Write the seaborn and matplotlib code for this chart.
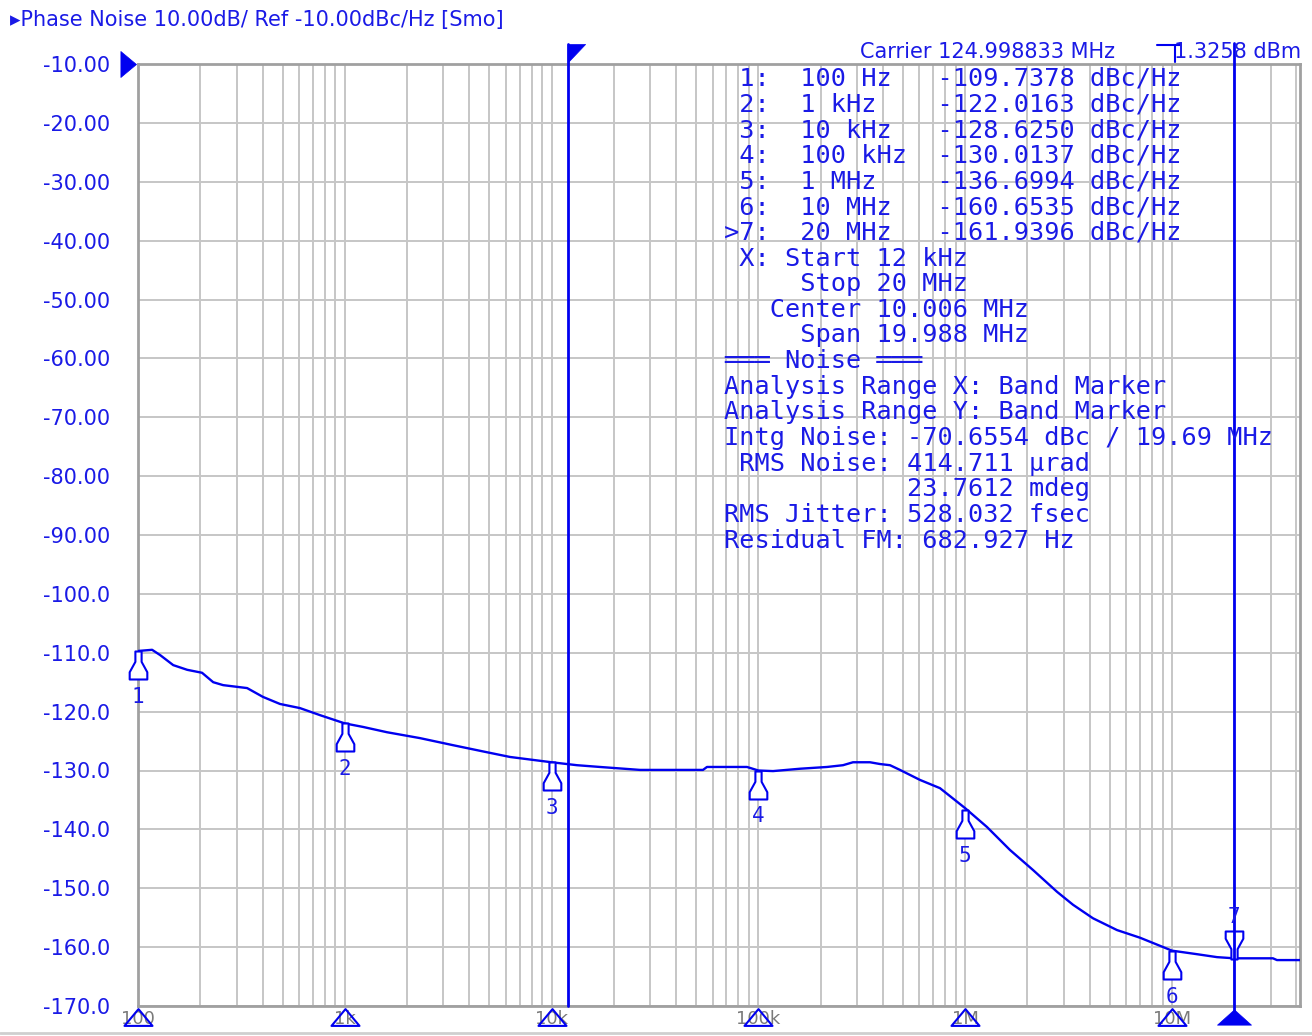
import numpy as np
import pandas as pd
import matplotlib
matplotlib.use("Agg")
import matplotlib.pyplot as plt
import seaborn as sns
from matplotlib.path import Path
from matplotlib.ticker import LogLocator, NullFormatter
from matplotlib.transforms import blended_transform_factory
from matplotlib.lines import Line2D

# ---------------- data ----------------
freq_hz = [100, 117, 128, 148, 173, 204, 231, 258, 337, 402, 486, 607, 759,
           1000, 1225, 1600, 2310, 3337, 4872, 6292, 8132, 10000, 13270, 17140,
           26770, 53970, 56420, 88080, 100000, 117700, 158900, 214700, 256600,
           286800, 346500, 387300, 432900, 483800, 604500, 755300, 1.0e6,
           1.275e6, 1.647e6, 2.128e6, 2.78e6, 3.321e6, 4.15e6, 5.42e6, 7.003e6,
           1.0e7, 1.321e7, 1.651e7, 2.0e7, 3.078e7, 3.219e7, 4.16e7]
noise_dbc = [-109.7, -109.5, -110.4, -112.1, -112.9, -113.4, -115.0, -115.5,
             -116.0, -117.5, -118.7, -119.4, -120.6, -122.0, -122.6, -123.5,
             -124.5, -125.7, -126.9, -127.7, -128.2, -128.6, -129.1, -129.4,
             -129.9, -129.9, -129.4, -129.4, -130.0, -130.1, -129.7, -129.4,
             -129.1, -128.6, -128.6, -128.9, -129.1, -129.9, -131.6, -133.0,
             -136.4, -139.6, -143.5, -146.9, -150.6, -152.8, -155.1, -157.1,
             -158.4, -160.6, -161.2, -161.7, -161.9, -161.9, -162.2, -162.2]

marker_ids = ["1", "2", "3", "4", "5", "6", "7"]
marker_freq = [100, 1e3, 1e4, 1e5, 1e6, 1e7, 2e7]
marker_val = [-109.7378, -122.0163, -128.6250, -130.0137, -136.6994, -160.6535, -161.9396]

band_start_hz = 12e3
band_stop_hz = 20e6
ref_level = -10.0

y_ticks = [-10, -20, -30, -40, -50, -60, -70, -80, -90, -100, -110, -120, -130, -140, -150, -160, -170]
y_tick_labels = ["-10.00", "-20.00", "-30.00", "-40.00", "-50.00", "-60.00", "-70.00",
                 "-80.00", "-90.00", "-100.0", "-110.0", "-120.0", "-130.0", "-140.0",
                 "-150.0", "-160.0", "-170.0"]
x_ticks = [100, 1e3, 1e4, 1e5, 1e6, 1e7]
x_tick_labels = ["100", "1k", "10k", "100k", "1M", "10M"]
x_limits = (100, 4.16e7)
y_limits = (-170, -10)

title_text = "\u25b8Phase Noise 10.00dB/ Ref -10.00dBc/Hz [Smo]"
carrier_text = "Carrier 124.998833 MHz"
power_text = "1.3258 dBm"
info_lines = [
    " 1:  100 Hz   -109.7378 dBc/Hz",
    " 2:  1 kHz    -122.0163 dBc/Hz",
    " 3:  10 kHz   -128.6250 dBc/Hz",
    " 4:  100 kHz  -130.0137 dBc/Hz",
    " 5:  1 MHz    -136.6994 dBc/Hz",
    " 6:  10 MHz   -160.6535 dBc/Hz",
    ">7:  20 MHz   -161.9396 dBc/Hz",
    " X: Start 12 kHz",
    "     Stop 20 MHz",
    "   Center 10.006 MHz",
    "     Span 19.988 MHz",
    "\u2550\u2550\u2550 Noise \u2550\u2550\u2550",
    "Analysis Range X: Band Marker",
    "Analysis Range Y: Band Marker",
    "Intg Noise: -70.6554 dBc / 19.69 MHz",
    " RMS Noise: 414.711 \u00b5rad",
    "            23.7612 mdeg",
    "RMS Jitter: 528.032 fsec",
    "Residual FM: 682.927 Hz",
]

# ---------------- style ----------------
W, H = 1312, 1036
BLUE = "#0000f0"
TXT = "#1a1ae6"
GRID = "#c6c6c6"
FRAME = "#a0a0a0"

sns.set_style("white")
plt.rcParams["font.family"] = ["DejaVu Sans"]

def fx(x):
    return x / W

def fy(y):
    return 1 - y / H

fig = plt.figure(figsize=(W / 100, H / 100), dpi=100)
ax = fig.add_axes([fx(138), (H - 1006) / H, (1300 - 138) / W, (1006 - 64) / H])
ax.set_xscale("log")

df = pd.DataFrame({"freq_hz": freq_hz, "noise_dbc": noise_dbc})
sns.lineplot(data=df, x="freq_hz", y="noise_dbc", ax=ax, color=BLUE, lw=1.7,
             estimator=None, sort=False, zorder=5)

ax.set_xlim(*x_limits)
ax.set_ylim(*y_limits)
ax.set_xlabel("")
ax.set_ylabel("")

ax.set_yticks(y_ticks)
ax.set_yticklabels(y_tick_labels)
ax.set_xticks(x_ticks)
ax.set_xticklabels(x_tick_labels)
ax.xaxis.set_minor_locator(LogLocator(base=10, subs=np.arange(2, 10)))
ax.xaxis.set_minor_formatter(NullFormatter())
ax.tick_params(axis="y", length=0, pad=20, labelsize=15, labelcolor=TXT)
ax.tick_params(axis="x", which="both", length=0, pad=3, labelsize=13, labelcolor="#7a7a7a")
ax.grid(True, which="major", axis="both", color=GRID, lw=1.4, zorder=0)
ax.grid(True, which="minor", axis="x", color=GRID, lw=1.4, zorder=0)
for s in ax.spines.values():
    s.set_color(FRAME)
    s.set_linewidth(2)

# ---------------- markers ----------------
bell = Path([(-3, 0), (-3, -10), (-8.5, -20), (-8.5, -27), (8.5, -27), (8.5, -20), (3, -10), (3, 0), (-3, 0)],
            [Path.MOVETO] + [Path.LINETO] * 7 + [Path.CLOSEPOLY])
bell_up = Path([(x, -y) for x, y in bell.vertices], bell.codes)
px2pt = 0.72
ms_bell = 2 * 28 * px2pt

ax.plot(marker_freq[:6], marker_val[:6], ls="none", marker=bell, ms=ms_bell,
        mfc="white", mec=BLUE, mew=1.5, zorder=6, clip_on=False)
ax.plot(marker_freq[6:], marker_val[6:], ls="none", marker=bell_up, ms=ms_bell,
        mfc="white", mec=BLUE, mew=1.5, zorder=6, clip_on=False)
for mid, f, v in zip(marker_ids, marker_freq, marker_val):
    off = 30 if mid == "7" else -33
    ax.annotate(mid, (f, v), xytext=(0, off), textcoords="offset points",
                ha="center", va="center", color=TXT, fontsize=15,
                family="DejaVu Sans Mono", zorder=7, annotation_clip=False)

# band marker lines
ax.axvline(band_start_hz, ymin=0, ymax=1.021, color=BLUE, lw=2, clip_on=False, zorder=6)
ax.axvline(band_stop_hz, ymin=-0.005, ymax=1.022, color=BLUE, lw=2, clip_on=False, zorder=6)

bx = blended_transform_factory(ax.transData, ax.transAxes)
flag = Path([(0, 0), (0.95, 0), (0, -1), (0, 0)], [Path.MOVETO, Path.LINETO, Path.LINETO, Path.CLOSEPOLY])
ax.plot([band_start_hz], [1.021], transform=bx, marker=flag, ms=2 * 18 * px2pt,
        mfc=BLUE, mec=BLUE, mew=0.5, ls="none", clip_on=False, zorder=7)

tri = Path([(0, 0.6), (-1, -0.6), (1, -0.6), (0, 0.6)], [Path.MOVETO, Path.LINETO, Path.LINETO, Path.CLOSEPOLY])
ax.plot(marker_freq[:6], [-0.0112] * 6, transform=bx, marker=tri, ms=28 * px2pt,
        mfc="none", mec=BLUE, mew=1.5, ls="none", clip_on=False, zorder=7)
tri_f = Path([(0, 0.45), (-1, -0.45), (1, -0.45), (0, 0.45)], [Path.MOVETO, Path.LINETO, Path.LINETO, Path.CLOSEPOLY])
ax.plot([band_stop_hz], [-0.0122], transform=bx, marker=tri_f, ms=34 * px2pt,
        mfc=BLUE, mec=BLUE, mew=0.5, ls="none", clip_on=False, zorder=7)

# reference level triangle
by = blended_transform_factory(ax.transAxes, ax.transData)
ref = Path([(0, 0), (-1.2, 1), (-1.2, -1), (0, 0)], [Path.MOVETO, Path.LINETO, Path.LINETO, Path.CLOSEPOLY])
ax.plot([-0.0017], [ref_level], transform=by, marker=ref, ms=2 * 13 * 1.2 * px2pt,
        mfc=BLUE, mec=BLUE, mew=0.5, ls="none", clip_on=False, zorder=7)

# ---------------- texts ----------------
fig.text(fx(10), fy(20), title_text, color=TXT, fontsize=15, ha="left", va="center")
fig.text(fx(860), fy(52), carrier_text, color=TXT, fontsize=15, ha="left", va="center")
fig.text(fx(1174), fy(52), power_text, color=TXT, fontsize=15, ha="left", va="center")
fig.add_artist(Line2D([fx(1157), fx(1180)], [fy(45), fy(45)], color=BLUE, lw=1.5))
fig.add_artist(Line2D([fx(1175), fx(1175)], [fy(45), fy(62)], color=BLUE, lw=1.5))

for i, line in enumerate(info_lines):
    fig.text(fx(724), fy(79 + i * 25.65), line, color=TXT, fontsize=18.2,
             family="DejaVu Sans Mono", ha="left", va="center", zorder=8)

fig.add_artist(Line2D([0, 1], [fy(1033), fy(1033)], color="#cfcfcf", lw=2))

fig.savefig("out.png", dpi=100, facecolor="white")
